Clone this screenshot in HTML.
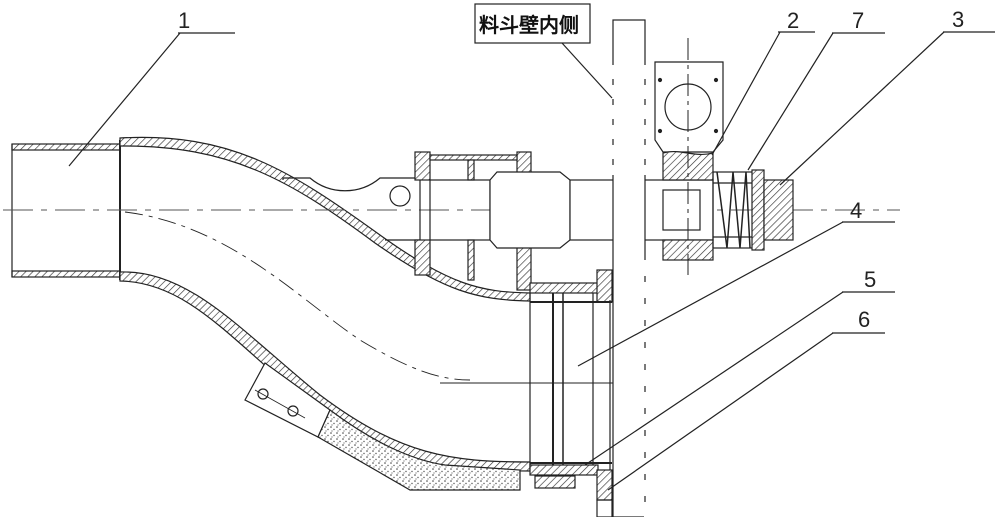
<!DOCTYPE html>
<html><head><meta charset="utf-8"><style>
html,body{margin:0;padding:0;background:#fff;}
svg{display:block;}
text{font-family:"Liberation Sans",sans-serif;}
</style></head><body>
<svg width="1000" height="517" viewBox="0 0 1000 517" xmlns="http://www.w3.org/2000/svg">
<defs>
<pattern id="h" width="5" height="5" patternUnits="userSpaceOnUse" patternTransform="rotate(45)">
<rect width="5" height="5" fill="#fff"/><line x1="0" y1="0" x2="0" y2="5" stroke="#333" stroke-width="1.3"/>
</pattern>
<pattern id="s" width="6" height="6" patternUnits="userSpaceOnUse">
<rect width="6" height="6" fill="#fff"/><circle cx="1" cy="1" r="0.8" fill="#444"/><circle cx="4" cy="3.5" r="0.7" fill="#555"/><circle cx="2" cy="5" r="0.6" fill="#666"/>
</pattern>
</defs>
<g stroke="#222" stroke-width="1.2" fill="none">
<rect x="12" y="144" width="108" height="6" fill="url(#h)"/>
<rect x="12" y="271" width="108" height="6" fill="url(#h)"/>
<line x1="12" y1="144" x2="12" y2="277"/>
<line x1="120" y1="140" x2="120" y2="280" stroke-width="2"/>
<path d="M120 138 C230 132 290 170 380 235 C450 285 480 292 530 293 L530 301 C478 300 445 292 375 243 C290 180 230 145 120 146 Z" fill="url(#h)"/>
<path d="M120 272 C190 270 240 330 320 395 C400 455 450 462 530 462 L530 471 C440 471 395 465 312 405 C235 345 190 282 120 281 Z" fill="url(#h)"/>
<path d="M125 212 C230 225 300 300 360 340 C410 370 440 380 470 380" stroke-dasharray="18,6,4,6" stroke-width="0.9"/>
<line x1="440" y1="383" x2="625" y2="383" stroke-width="1"/>
<line x1="3" y1="210" x2="900" y2="210" stroke="#555" stroke-dasharray="30,8,6,8" stroke-width="1"/>
<path d="M283 180 L283 178 L310 178 C330 195 360 195 380 178 L420 178 L420 240 L385 240"/>
<circle cx="400" cy="196" r="10"/>
<rect x="415" y="152" width="15" height="28" fill="url(#h)"/>
<rect x="415" y="240" width="15" height="35" fill="url(#h)"/>
<rect x="517" y="152" width="14" height="28" fill="url(#h)"/>
<rect x="517" y="240" width="14" height="50" fill="url(#h)"/>
<rect x="430" y="155" width="87" height="5" fill="url(#h)"/>
<rect x="468" y="160" width="6" height="20" fill="url(#h)"/>
<rect x="468" y="240" width="6" height="40" fill="url(#h)"/>
<rect x="430" y="180" width="60" height="60"/>
<path d="M490 180 L497 172 L560 172 L570 180 L570 240 L560 248 L497 248 L490 240 Z" fill="#fff"/>
<rect x="570" y="180" width="143" height="60" fill="#fff"/>
<rect x="613" y="20" width="32" height="497" fill="#fff"/>
<line x1="613" y1="65" x2="613" y2="175" stroke-dasharray="14,6" stroke="#fff" stroke-width="2"/>
<line x1="645" y1="65" x2="645" y2="175" stroke-dasharray="14,6" stroke="#fff" stroke-width="2"/>
<line x1="645" y1="260" x2="645" y2="517" stroke-dasharray="16,6" stroke="#fff" stroke-width="2"/>
<rect x="475" y="4" width="115" height="39" fill="#fff"/>
<line x1="562" y1="43" x2="612" y2="98"/>
<path d="M655 62 L723 62 L723 140 L713 152 L663 152 L655 140 Z" fill="#fff"/>
<circle cx="688" cy="107" r="23"/>
<circle cx="660" cy="80" r="1.5" fill="#222"/><circle cx="716" cy="80" r="1.5" fill="#222"/>
<circle cx="660" cy="131" r="1.5" fill="#222"/><circle cx="716" cy="131" r="1.5" fill="#222"/>
<path d="M663 153 C680 148 695 158 713 153 L713 180 L663 180 Z" fill="url(#h)"/>
<rect x="663" y="240" width="50" height="20" fill="url(#h)"/>
<rect x="663" y="190" width="37" height="40"/>
<line x1="688" y1="38" x2="688" y2="275" stroke-dasharray="22,5,4,5" stroke-width="1"/>
<rect x="713" y="172" width="40" height="76"/>
<path d="M717 172 L727 248 L733 172 L740 248 L746 172 L750 248" stroke-width="1.5"/>
<line x1="713" y1="183" x2="753" y2="183"/><line x1="713" y1="237" x2="753" y2="237"/>
<rect x="752" y="170" width="12" height="80" fill="url(#h)"/>
<rect x="764" y="180" width="29" height="60" fill="url(#h)"/>
<rect x="530" y="283" width="68" height="10" fill="url(#h)"/>
<rect x="530" y="465" width="68" height="10" fill="url(#h)"/>
<rect x="597" y="270" width="15" height="32" fill="url(#h)"/>
<rect x="597" y="470" width="15" height="30" fill="url(#h)"/>
<rect x="597" y="500" width="15" height="17"/>
<rect x="535" y="476" width="40" height="12" fill="url(#h)"/>
<line x1="530" y1="293" x2="530" y2="465"/>
<line x1="553" y1="293" x2="553" y2="465" stroke-width="2"/>
<line x1="563" y1="293" x2="563" y2="465" stroke-width="1.5"/>
<line x1="593" y1="293" x2="593" y2="465"/>
<line x1="610" y1="300" x2="610" y2="470"/>
<line x1="530" y1="302" x2="612" y2="302" stroke-width="2"/>
<line x1="530" y1="463" x2="612" y2="463" stroke-width="2"/>
<path d="M245 400 L265 363 L330 410 L318 437 Z" fill="#fff"/>
<path d="M318 437 L330 410 C370 440 410 460 445 465 L520 470 L520 490 L410 490 Z" fill="url(#s)"/>
<line x1="255" y1="390" x2="305" y2="418" stroke-width="0.8"/>
<circle cx="263" cy="394" r="5"/><circle cx="293" cy="411" r="5"/>
<line x1="178" y1="33" x2="235" y2="33"/><line x1="180" y1="33" x2="69" y2="166"/>
<line x1="778" y1="32" x2="815" y2="32"/><line x1="780" y1="32" x2="712" y2="155"/>
<line x1="832" y1="33" x2="885" y2="33"/><line x1="833" y1="33" x2="748" y2="170"/>
<line x1="943" y1="32" x2="995" y2="32"/><line x1="944" y1="32" x2="780" y2="185"/>
<line x1="842" y1="222" x2="895" y2="222"/><line x1="843" y1="222" x2="578" y2="366"/>
<line x1="842" y1="292" x2="895" y2="292"/><line x1="843" y1="292" x2="585" y2="465"/>
<line x1="832" y1="333" x2="885" y2="333"/><line x1="833" y1="333" x2="608" y2="490"/>
</g>
<g fill="#222" font-size="22">
<text x="178" y="28">1</text>
<text x="787" y="28">2</text>
<text x="852" y="28">7</text>
<text x="952" y="27">3</text>
<text x="850" y="218">4</text>
<text x="864" y="287">5</text>
<text x="858" y="327">6</text>
</g>
<text x="479" y="32" font-size="20" font-weight="bold" fill="#111" font-family="'Liberation Sans','Noto Sans CJK SC',sans-serif">料斗壁内侧</text>
</svg>
</body></html>
